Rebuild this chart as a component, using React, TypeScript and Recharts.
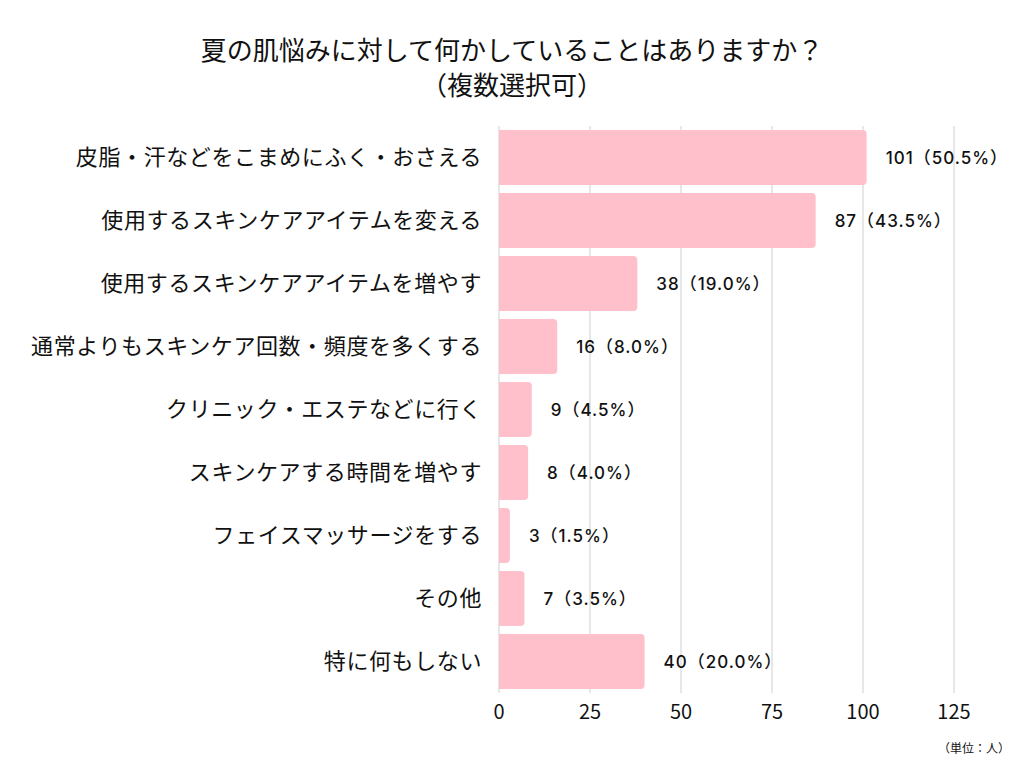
import { Bar, BarChart, CartesianGrid, LabelList, XAxis, YAxis } from 'recharts';

const CATEGORIES = [
  '皮脂・汗などをこまめにふく・おさえる',
  '使用するスキンケアアイテムを変える',
  '使用するスキンケアアイテムを増やす',
  '通常よりもスキンケア回数・頻度を多くする',
  'クリニック・エステなどに行く',
  'スキンケアする時間を増やす',
  'フェイスマッサージをする',
  'その他',
  '特に何もしない',
];
const COUNTS = [101, 87, 38, 16, 9, 8, 3, 7, 40];
const PERCENTS = ['50.5', '43.5', '19.0', '8.0', '4.5', '4.0', '1.5', '3.5', '20.0'];
const X_TICKS = [0, 25, 50, 75, 100, 125];

const TITLE = '夏の肌悩みに対して何かしていることはありますか？';
const SUBTITLE = '（複数選択可）';
const UNIT = '（単位：人）';

const JP = '"Noto Sans CJK JP", "Noto Sans", sans-serif';

const data = CATEGORIES.map((name, i) => ({
  name,
  value: COUNTS[i],
  label: `${COUNTS[i]}（${PERCENTS[i]}%）`,
}));

function ValueLabel(props: any) {
  const { x, y, width, height, index } = props;
  return (
    <text
      x={x + width + 19}
      y={y + height / 2}
      dominantBaseline="central"
      fontSize={17}
      fontWeight={500}
      letterSpacing={1}
      fontFamily={'Inter, "Noto Sans CJK JP", sans-serif'}
      fill="#111"
    >
      {data[index].label}
    </text>
  );
}

export default function App() {
  return (
    <div
      style={{
        position: 'absolute',
        left: 0,
        top: 0,
        width: 1024,
        height: 768,
        background: '#fff',
        fontFamily: JP,
      }}
    >
      <div
        style={{
          position: 'absolute',
          top: 31,
          left: 0,
          width: 1024,
          textAlign: 'center',
          fontSize: 26,
          lineHeight: '35px',
          color: '#111',
        }}
      >
        {TITLE}
        <br />
        {SUBTITLE}
      </div>
      <BarChart
        width={1024}
        height={768}
        data={data}
        layout="vertical"
        margin={{ top: 126, right: 70, left: 0, bottom: 35 }}
        barCategoryGap={4}
      >
        <CartesianGrid horizontal={false} stroke="#cfcfcf" />
        <XAxis
          type="number"
          domain={[0, 125]}
          ticks={X_TICKS}
          axisLine={false}
          tickLine={false}
          tickSize={0}
          tickMargin={12}
          height={40}
          tick={{ fontSize: 20, fill: '#111', fontFamily: JP }}
        />
        <YAxis
          type="category"
          dataKey="name"
          width={499}
          axisLine={false}
          tickLine={false}
          tickSize={0}
          tickMargin={17}
          interval={0}
          tick={{ fontSize: 22, fill: '#111', fontFamily: JP, letterSpacing: 0.6 }}
        />
        <Bar dataKey="value" fill="#FFC0CB" radius={[0, 4, 4, 0]} isAnimationActive={false}>
          <LabelList dataKey="value" content={ValueLabel} />
        </Bar>
      </BarChart>
      <div
        style={{
          position: 'absolute',
          top: 739,
          left: 938,
          fontSize: 12,
          color: '#111',
        }}
      >
        {UNIT}
      </div>
    </div>
  );
}
